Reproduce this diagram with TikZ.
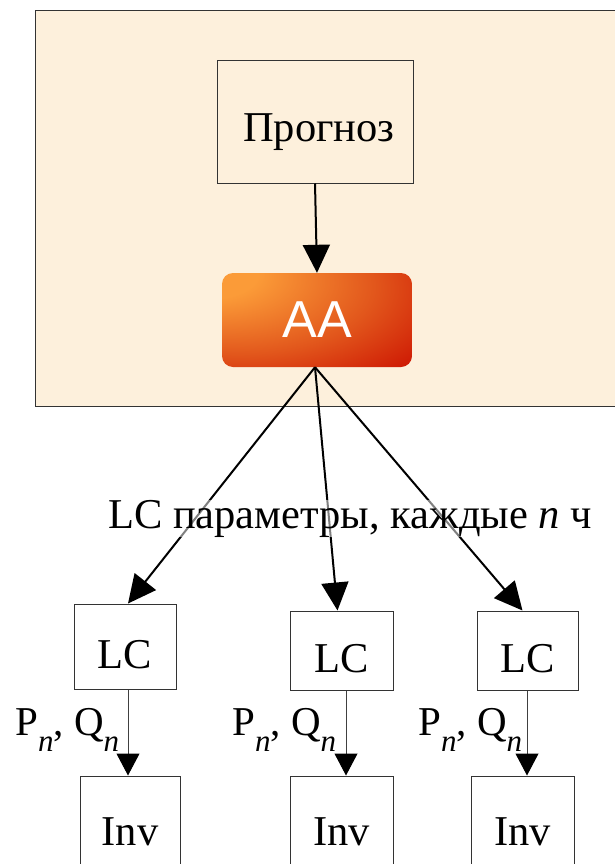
\documentclass[tikz,border=0pt]{standalone}
\usepackage{fontspec}
\setmainfont{Liberation Serif}
\newfontfamily\aafont{Liberation Sans}
\usetikzlibrary{arrows.meta,calc}
\definecolor{bgcream}{HTML}{FDF0DC}
\definecolor{aaor}{HTML}{FB9B38}
\definecolor{aamid}{HTML}{E2571C}
\definecolor{aared}{HTML}{CB1000}
\definecolor{boxline}{HTML}{333333}
\pgfdeclareradialshading{aashade}{\pgfpoint{-33bp}{28bp}}{color(0bp)=(aaor); color(13bp)=(aaor); color(36bp)=(aamid); color(57bp)=(aared); color(100bp)=(aared)}
\tikzset{
  plainbox/.style={draw=boxline, line width=1pt, inner sep=0pt, font=\fontsize{42.5}{50}\selectfont},
  bigarrow/.style={draw=black, line width=2pt, -{Triangle[length=28pt,width=27pt]}},
  thinarrow/.style={draw=black!75, line width=1pt, -{Triangle[length=22pt,width=23pt,fill=black,color=black]}},
  lbl/.style={inner sep=0pt, font=\fontsize{42.5}{50}\selectfont},
  pqlbl/.style={inner sep=0pt, font=\fontsize{41}{48}\selectfont}
}
\newcommand{\pqlabel}{P\raisebox{-0.4em}{\fontsize{31}{31}\selectfont\itshape n}, Q\raisebox{-0.4em}{\fontsize{31}{31}\selectfont\itshape n}}
\newcommand{\lowered}[2]{\raisebox{-#1}[0pt][0pt]{#2}}
\begin{document}
\begin{tikzpicture}[x=1pt,y=-1pt]
\useasboundingbox (0,0) rectangle (614,864);
\fill[white] (0,0) rectangle (614,864);
\draw[fill=bgcream, draw=boxline, line width=1pt] (35,11) rectangle (640,406);
\node[plainbox, minimum width=196pt, minimum height=122pt] (prog) at (315,122) {\hspace{8pt}\lowered{19pt}{Прогноз}};
\node[rounded corners=11pt, shading=aashade, minimum width=190pt, minimum height=94pt, inner sep=0pt, text=white, font=\aafont\fontsize{52}{56}\selectfont] (aa) at (317,320) {AA};
\node[plainbox, minimum width=102pt, minimum height=85pt] (lc1) at (125,646.5) {\lowered{21.5pt}{LC}};
\node[plainbox, minimum width=103pt, minimum height=79pt] (lc2) at (341.5,650.5) {\lowered{22pt}{LC}};
\node[plainbox, minimum width=101pt, minimum height=79pt] (lc3) at (527.5,650.5) {\lowered{22pt}{LC}};
\node[plainbox, minimum width=100pt, minimum height=110pt] (inv1) at (130,831) {\lowered{14pt}{Inv}};
\node[plainbox, minimum width=103pt, minimum height=110pt] (inv2) at (341.5,831) {\lowered{14pt}{Inv}};
\node[plainbox, minimum width=103pt, minimum height=110pt] (inv3) at (522.5,831) {\lowered{14pt}{Inv}};
\draw[bigarrow] (prog.south) -- (aa.north);
\coordinate (aasrc) at ($(aa.south)+(-2,0)$);
\draw[bigarrow] (aasrc) -- ([xshift=3pt]lc1.north);
\draw[bigarrow] (aasrc) -- ([xshift=-4pt]lc2.north);
\draw[bigarrow] (aasrc) -- ([xshift=-5pt]lc3.north);
\node[lbl, fill=white, fill opacity=0.5, text opacity=1, anchor=base] (param) at (350,528) {LC параметры, каждые \textit{n} ч};
\draw[thinarrow] ([xshift=3pt]lc1.south) -- ([xshift=-2pt]inv1.north);
\draw[thinarrow] ([xshift=4.5pt]lc2.south) -- ([xshift=4.5pt]inv2.north);
\draw[thinarrow] ([xshift=-0.5pt]lc3.south) -- ([xshift=4.5pt]inv3.north);
\node[pqlbl, anchor=base west] (pq1) at (15,735) {\pqlabel};
\node[pqlbl, anchor=base west] (pq2) at (232,735) {\pqlabel};
\node[pqlbl, anchor=base west] (pq3) at (418,735) {\pqlabel};
\end{tikzpicture}
\end{document}
